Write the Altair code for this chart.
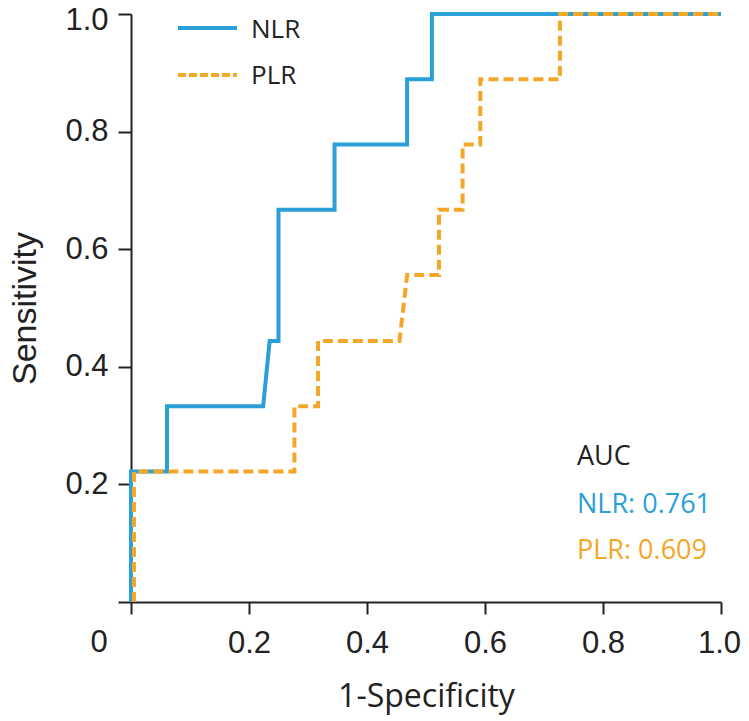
import altair as alt
import pandas as pd

# ROC curve points
nlr_fpr = [0, 0, 0.061, 0.061, 0.224, 0.235, 0.25, 0.25, 0.345, 0.345, 0.468, 0.468, 0.51, 0.51, 1.0]
nlr_tpr = [0, 0.222, 0.222, 0.333, 0.333, 0.444, 0.444, 0.667, 0.667, 0.778, 0.778, 0.889, 0.889, 1.0, 1.0]

plr_fpr = [0.005, 0.005, 0.277, 0.277, 0.317, 0.317, 0.455, 0.468, 0.522, 0.522, 0.562, 0.562, 0.592, 0.592, 0.727, 0.727, 1.0]
plr_tpr = [0, 0.222, 0.222, 0.333, 0.333, 0.444, 0.444, 0.556, 0.556, 0.667, 0.667, 0.778, 0.778, 0.889, 0.889, 1.0, 1.0]

tick_values = [0, 0.2, 0.4, 0.6, 0.8, 1.0]
series_names = ["NLR", "PLR"]
auc_lines = ["AUC", "NLR: 0.761", "PLR: 0.609"]

BLUE = "#2b9fd7"
ORANGE = "#f4a628"
INK = "#222222"

nlr_df = pd.DataFrame({"fpr": nlr_fpr, "tpr": nlr_tpr, "idx": range(len(nlr_fpr))})
plr_df = pd.DataFrame({"fpr": plr_fpr, "tpr": plr_tpr, "idx": range(len(plr_fpr))})

x_enc = alt.X(
    "fpr:Q",
    scale=alt.Scale(domain=[0, 1], nice=False, zero=False),
    axis=alt.Axis(
        values=tick_values,
        labelExpr="datum.value == 0 ? '' : format(datum.value, '.1f')",
        labelOffset={"condition": {"test": "datum.value == 1", "value": -2}, "value": 0},
        title="1-Specificity",
        titleFont="Open Sans",
        titleFontSize=32,
        titleFontWeight="normal",
        titleColor=INK,
        titleBaseline="alphabetic",
        titleX=295,
        titleY=104,
        tickSize=12,
        labelPadding=14,
        labelFont="Liberation Sans",
        labelFontSize=31,
        labelColor=INK,
        grid=False,
        labelFlush=False,
        labelOverlap=False,
    ),
)
y_enc = alt.Y(
    "tpr:Q",
    scale=alt.Scale(domain=[0, 1], nice=False, zero=False),
    axis=alt.Axis(
        values=tick_values,
        labelExpr="datum.value == 0 ? '' : format(datum.value, '.1f')",
        labelOffset={"condition": {"test": "datum.value == 1", "value": 6}, "value": 0},
        title="Sensitivity",
        titleFont="Liberation Sans",
        titleFontSize=34,
        titleFontWeight="normal",
        titleColor=INK,
        titleBaseline="alphabetic",
        titleAngle=270,
        titleX=-96,
        titleY=294,
        tickSize=13,
        labelPadding=10,
        labelFont="Liberation Sans",
        labelFontSize=31,
        labelColor=INK,
        grid=False,
        labelFlush=False,
        labelOverlap=False,
    ),
)

nlr_line = alt.Chart(nlr_df).mark_line(color=BLUE, strokeWidth=4, strokeJoin="miter").encode(
    x=x_enc, y=y_enc, order="idx:Q"
)
plr_line = alt.Chart(plr_df).mark_line(
    color=ORANGE, strokeWidth=4, strokeDash=[10, 5], strokeJoin="miter"
).encode(x="fpr:Q", y="tpr:Q", order="idx:Q")

# legend (top-left)
leg_nlr_rule = alt.Chart().mark_rule(color=BLUE, strokeWidth=4).encode(
    x=alt.value(47), x2=alt.value(106), y=alt.value(14)
)
leg_plr_rule = alt.Chart().mark_rule(color=ORANGE, strokeWidth=4, strokeDash=[8, 3]).encode(
    x=alt.value(47), x2=alt.value(106), y=alt.value(61)
)
leg_nlr_text = alt.Chart().mark_text(
    text=series_names[0], align="left", baseline="alphabetic", font="Open Sans", fontSize=26, color=INK
).encode(x=alt.value(120), y=alt.value(23.5))
leg_plr_text = alt.Chart().mark_text(
    text=series_names[1], align="left", baseline="alphabetic", font="Open Sans", fontSize=26, color=INK
).encode(x=alt.value(120), y=alt.value(70))

# AUC annotation
auc_colors = [INK, BLUE, ORANGE]
auc_y = [451, 498.7, 545]
auc_layers = [
    alt.Chart().mark_text(
        text=t, align="left", baseline="alphabetic", font="Open Sans", fontSize=27, color=c
    ).encode(x=alt.value(446), y=alt.value(yy))
    for t, c, yy in zip(auc_lines, auc_colors, auc_y)
]

# shared origin label "0"
origin_label = alt.Chart().mark_text(
    text="0", align="center", baseline="alphabetic", font="Liberation Sans", fontSize=31, color=INK
).encode(x=alt.value(-32), y=alt.value(637.7))

chart = alt.layer(
    nlr_line, plr_line, leg_nlr_rule, leg_plr_rule, leg_nlr_text, leg_plr_text, origin_label, *auc_layers
).properties(
    width=590,
    height=588,
    autosize=alt.AutoSizeParams(type="none"),
    padding={"left": 123, "top": 6, "right": 20, "bottom": 118},
    background="white",
).configure_view(stroke=None).configure_axis(
    domainColor=INK, domainWidth=2, tickColor=INK, tickWidth=2
)

chart.save("out.html", embed_options={"renderer": "svg", "actions": False})
